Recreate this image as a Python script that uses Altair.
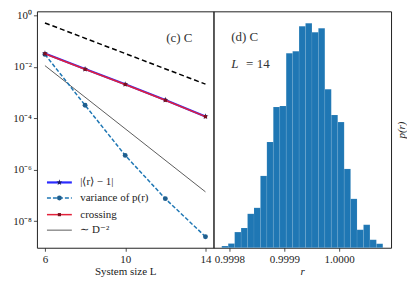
import altair as alt
import pandas as pd

# ---------------- data ----------------
L_vals = [6, 8, 10, 12, 14]
mean_r_dev = [0.0327, 0.00807, 0.00207, 5.1e-4, 1.17e-4]
crossing = [0.0320, 0.00795, 0.00204, 5.0e-4, 1.15e-4]
variance = [0.030, 3.2e-4, 3.6e-6, 7.5e-8, 2.5e-9]
guide_L = [6, 14]
guide_D1 = [0.50, 0.0021]      # dashed black guide
guide_D2 = [0.011, 1.38e-7]    # ~ D^-2 guide

hist_counts = [1.7, 4.2, 15.7, 19.8, 34, 40, 72, 106, 141, 142, 195, 197,
               222, 225, 216, 220, 159, 133, 126, 79, 49, 18, 23, 8, 4]
hist_start = 0.999786
hist_width = 0.00001174

legend_labels = ["|⟨r⟩ − 1|", "variance of p(r)", "crossing", "∼ D⁻²"]
legend_y = [3.2e-7, 8.0e-8, 1.8e-8, 4.5e-9]

FONT = "Liberation Serif"

# ---------------- left panel ----------------
xs = alt.Scale(domain=[5.6, 14.4], nice=False, zero=False)
ys = alt.Scale(type="log", domain=[10 ** -9.03, 10 ** 0.15], nice=False)

x_axis = alt.Axis(values=[6, 10, 14], format="d", title="System size L",
                  grid=False, domain=False, tickSize=3.5, labelFlush=False, titlePadding=1)
y_axis = alt.Axis(values=[1, 1e-2, 1e-4, 1e-6, 1e-8], grid=False, domain=False,
                  tickSize=3.5, title=None,
                  labelExpr="datum.value >= 0.5 ? '10⁰' : datum.value >= 0.005 ? '10⁻²' : "
                            "datum.value >= 5e-5 ? '10⁻⁴' : datum.value >= 5e-7 ? '10⁻⁶' : '10⁻⁸'")

main_df = pd.DataFrame({"L": L_vals, "mean": mean_r_dev, "cross": crossing, "var": variance})
guide_df = pd.DataFrame({"L": guide_L, "d1": guide_D1, "d2": guide_D2})

X = alt.X("L:Q", scale=xs, axis=x_axis)

def Y(field):
    return alt.Y(f"{field}:Q", scale=ys, axis=y_axis)

STAR = ("M0,-1L0.2245,-0.309L0.951,-0.309L0.363,0.118L0.588,0.809L0,0.382"
        "L-0.588,0.809L-0.363,0.118L-0.951,-0.309L-0.2245,-0.309Z")

g1 = alt.Chart(guide_df).mark_line(color="black", strokeDash=[5, 3], strokeWidth=1.5).encode(x=X, y=Y("d1"))
g2 = alt.Chart(guide_df).mark_line(color="#333333", strokeWidth=0.8).encode(x=X, y=Y("d2"))

var_line = alt.Chart(main_df).mark_line(color="#1f77b4", strokeDash=[4, 2], strokeWidth=1.5).encode(x=X, y=Y("var"))
var_pts = alt.Chart(main_df).mark_point(shape="circle", filled=True, color="#1f5f8f", size=24, opacity=1).encode(x=X, y=Y("var"))

mean_line = alt.Chart(main_df).mark_line(color="#2b2bff", strokeWidth=2.2).encode(x=X, y=Y("mean"))
mean_pts = alt.Chart(main_df).mark_point(shape=STAR, filled=True, color="#1a1a5e", size=40, opacity=1).encode(x=X, y=Y("mean"))

cross_line = alt.Chart(main_df).mark_line(color="#e3213a", strokeWidth=1.5).encode(x=X, y=Y("cross"))
cross_pts = alt.Chart(main_df).mark_point(shape="square", filled=True, color="#7a1020", size=10, opacity=1).encode(x=X, y=Y("cross"))

# legend (drawn in data coordinates)
leg_df = pd.DataFrame({"x1": [6.10] * 4, "x2": [7.34] * 4, "xm": [6.72] * 4, "xt": [7.76] * 4,
                       "y": legend_y, "label": legend_labels, "k": [0, 1, 2, 3]})

def leg_rule(k, **kw):
    return alt.Chart(leg_df[leg_df.k == k]).mark_rule(**kw).encode(
        x=alt.X("x1:Q", scale=xs, axis=x_axis), x2="x2:Q", y=alt.Y("y:Q", scale=ys, axis=y_axis))

def leg_pt(k, **kw):
    return alt.Chart(leg_df[leg_df.k == k]).mark_point(filled=True, opacity=1, **kw).encode(
        x=alt.X("xm:Q", scale=xs, axis=x_axis), y=alt.Y("y:Q", scale=ys, axis=y_axis))

leg = [
    leg_rule(0, color="#2b2bff", strokeWidth=2.2),
    leg_pt(0, shape=STAR, color="#1a1a5e", size=40),
    leg_rule(1, color="#1f77b4", strokeWidth=1.5, strokeDash=[4, 2]),
    leg_pt(1, shape="circle", color="#1f5f8f", size=24),
    leg_rule(2, color="#e3213a", strokeWidth=1.5),
    leg_pt(2, shape="square", color="#7a1020", size=10),
    leg_rule(3, color="#333333", strokeWidth=0.8),
]
leg_text = alt.Chart(leg_df).mark_text(align="left", baseline="middle", font=FONT, fontSize=11,
                                       color="#222222").encode(
    x=alt.X("xt:Q", scale=xs, axis=x_axis), y=alt.Y("y:Q", scale=ys, axis=y_axis), text="label:N")

ann_c = alt.Chart(pd.DataFrame({"x": [12.04], "y": [0.095], "t": ["(c) C"]})).mark_text(
    align="left", baseline="alphabetic", font=FONT, fontSize=13, color="#333333").encode(
    x=alt.X("x:Q", scale=xs, axis=x_axis), y=alt.Y("y:Q", scale=ys, axis=y_axis), text="t:N")

left = alt.layer(g1, g2, var_line, var_pts, mean_line, mean_pts, cross_line, cross_pts,
                 *leg, leg_text, ann_c).properties(width=177, height=237)

# ---------------- right panel ----------------
hist_df = pd.DataFrame({
    "lo": [hist_start + i * hist_width for i in range(len(hist_counts))],
    "hi": [hist_start + (i + 1) * hist_width for i in range(len(hist_counts))],
    "p": hist_counts,
})
rxs = alt.Scale(domain=[0.9997709, 1.0000945], nice=False, zero=False)
rys = alt.Scale(domain=[0, 237], nice=False)
rx_axis = alt.Axis(values=[0.9998, 0.9999, 1.0], format=".4f", title="r", titleFontStyle="italic",
                   grid=False, domain=False, tickSize=3.5, labelFlush=False, titlePadding=1)
ry_axis = alt.Axis(orient="right", ticks=False, labels=False, domain=False, grid=False,
                   title="p(r)", titleFontStyle="italic", titleAngle=270, titleBaseline="top",
                   titlePadding=4)

bars = alt.Chart(hist_df).mark_rect(color="#1f77b4", stroke="#ffffff", strokeOpacity=0.15,
                                    strokeWidth=0.5).encode(
    x=alt.X("lo:Q", scale=rxs, axis=rx_axis), x2="hi:Q",
    y=alt.Y("p:Q", scale=rys, axis=ry_axis), y2=alt.datum(0))

ann_df = pd.DataFrame({"x": [0.99980309, 0.99980309, 0.99983036], "y": [207, 180, 180],
                       "t": ["(d) C", "L", "= 14"], "s": ["normal", "italic", "normal"]})
ann_d = alt.Chart(ann_df[ann_df.s == "normal"]).mark_text(
    align="left", baseline="alphabetic", font=FONT, fontSize=13, color="#333333").encode(
    x=alt.X("x:Q", scale=rxs, axis=rx_axis), y=alt.Y("y:Q", scale=rys, axis=ry_axis), text="t:N")
ann_L = alt.Chart(ann_df[ann_df.s == "italic"]).mark_text(
    align="left", baseline="alphabetic", font=FONT, fontSize=13, fontStyle="italic", color="#333333").encode(
    x=alt.X("x:Q", scale=rxs, axis=rx_axis), y=alt.Y("y:Q", scale=rys, axis=ry_axis), text="t:N")

right = alt.layer(bars, ann_d, ann_L).properties(width=178, height=237)

chart = alt.hconcat(left, right, spacing=0, bounds="flush").properties(
    padding={"left": 4, "top": 0, "right": 0, "bottom": 0}
).configure_view(stroke="#222222", strokeWidth=1).configure_axis(
    labelFont=FONT, titleFont=FONT, labelFontSize=11, titleFontSize=11,
    labelColor="#222222", titleColor="#222222", tickColor="#222222", tickWidth=0.8,
    titleFontWeight="normal", labelPadding=2
)

chart.save("out.html", embed_options={"renderer": "svg", "actions": False})
